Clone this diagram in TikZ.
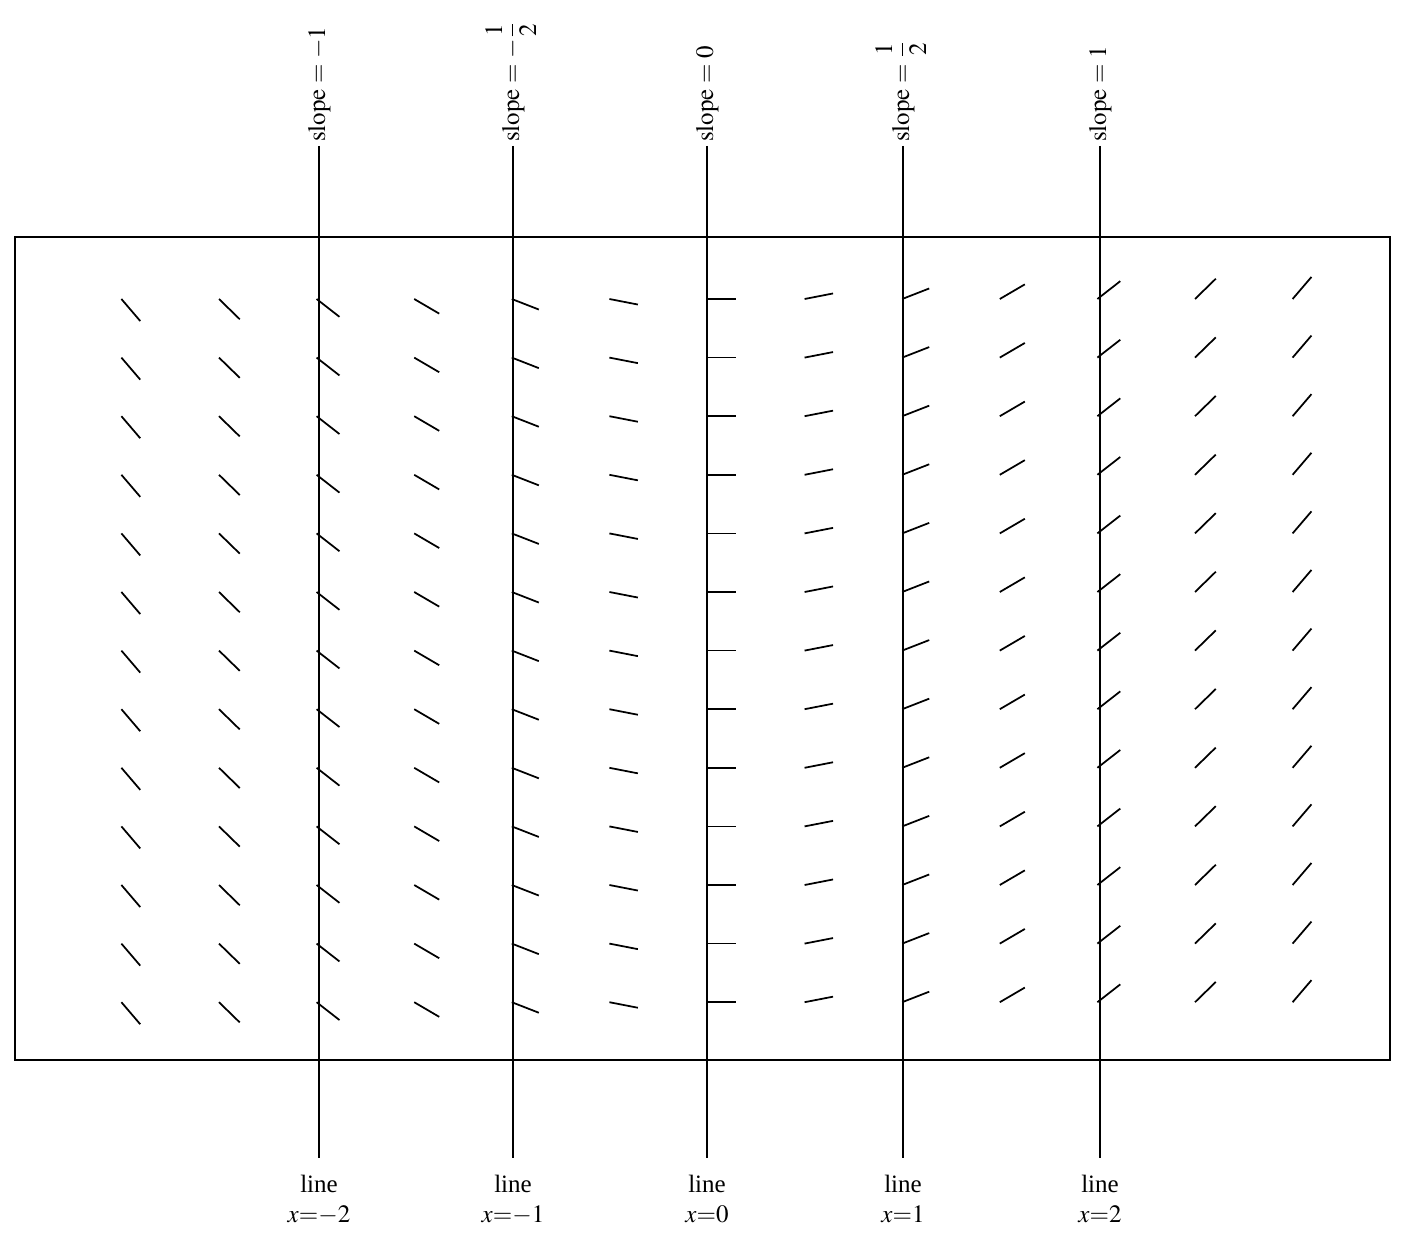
\documentclass[tikz,border=0pt]{standalone}
\usepackage{mathptmx}
\usepackage{fontspec}
\setmainfont{Liberation Serif}
\usetikzlibrary{calc}
\begin{document}
\begin{tikzpicture}[x=0.40pt,y=-0.40pt,
  frame/.style={line width=0.8pt},
  guide/.style={line width=0.55pt},
  seg/.style={line width=0.7pt},
  toplabel/.style={rotate=90,anchor=base west,inner sep=1pt},
  botlabel/.style={align=center,anchor=north,inner sep=0pt}]
\useasboundingbox (0,0) rectangle (1414,1239);
\draw[frame] (15,237) rectangle (1390,1060);
% slope field
\foreach \k in {-6,...,6}{
  \foreach \r in {0,...,12}{
    \pgfmathsetmacro\px{707+97.6*\k}
    \pgfmathsetmacro\py{299+58.6*\r}
    \pgfmathsetmacro\a{atan(0.78*\k/4)}
    \draw[seg] (\px,\py) -- ++({29*cos(\a)},{-29*sin(\a)});
  }
}
% guide lines
\coordinate (t1) at (319,146);  \coordinate (b1) at (319,1158);
\coordinate (t2) at (513,146);  \coordinate (b2) at (513,1158);
\coordinate (t3) at (707,146);  \coordinate (b3) at (707,1158);
\coordinate (t4) at (903,146);  \coordinate (b4) at (903,1158);
\coordinate (t5) at (1100,146); \coordinate (b5) at (1100,1158);
\foreach \i in {1,...,5}{\draw[guide] (t\i) -- (b\i);}
\node[toplabel] (s1) at ($(t1)+(6,-1)$) {$\mathrm{slope}=-1$};
\node[toplabel] (s2) at ($(t2)+(6,-1)$) {$\mathrm{slope}=-{\displaystyle\frac{1}{2}}$};
\node[toplabel] (s3) at ($(t3)+(6,-1)$) {$\mathrm{slope}=0$};
\node[toplabel] (s4) at ($(t4)+(6,-1)$) {$\mathrm{slope}={\displaystyle\frac{1}{2}}$};
\node[toplabel] (s5) at ($(t5)+(6,-1)$) {$\mathrm{slope}=1$};
\node[botlabel] (l1) at ($(b1)+(0,17)$) {line\\$x{=}{-}2$};
\node[botlabel] (l2) at ($(b2)+(0,17)$) {line\\$x{=}{-}1$};
\node[botlabel] (l3) at ($(b3)+(0,17)$) {line\\$x{=}0$};
\node[botlabel] (l4) at ($(b4)+(0,17)$) {line\\$x{=}1$};
\node[botlabel] (l5) at ($(b5)+(0,17)$) {line\\$x{=}2$};
\end{tikzpicture}
\end{document}
